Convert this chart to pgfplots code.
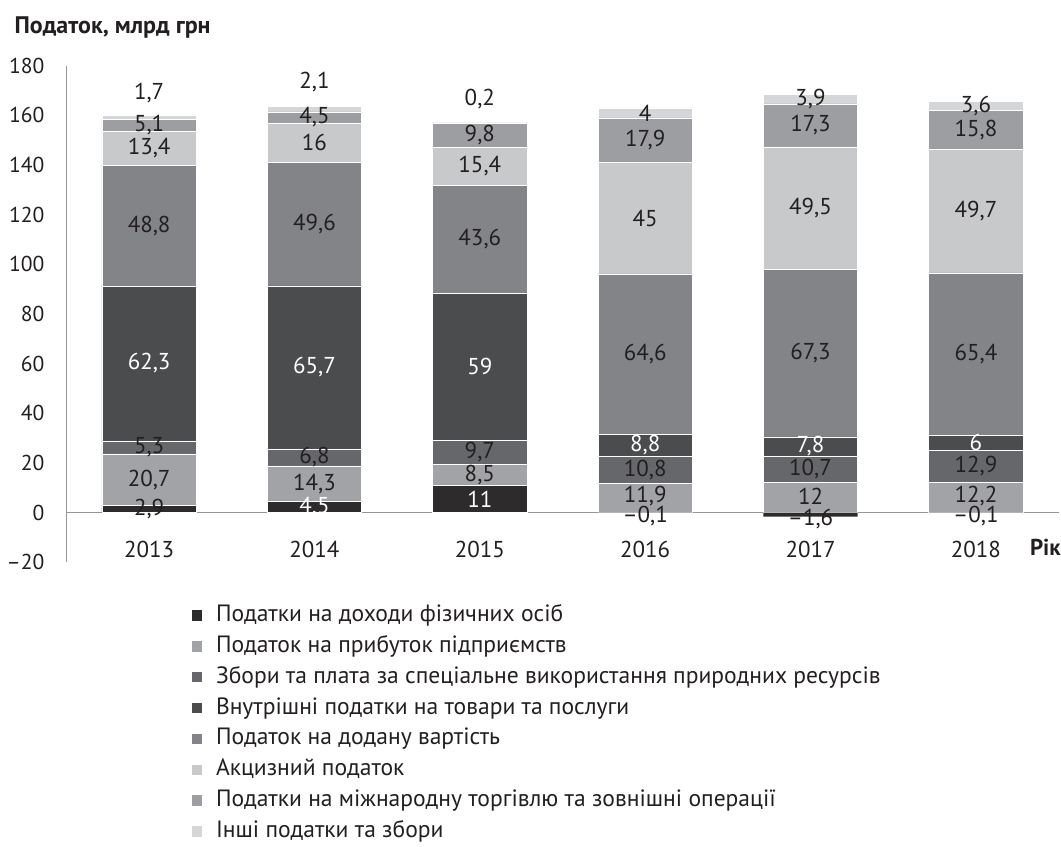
\documentclass[border=0pt]{standalone}
\usepackage{fontspec}
\setmainfont{PT Sans}
\usepackage{pgfplots}
\usepackage{pgfplotstable}
\pgfplotsset{compat=1.18}

\definecolor{cA}{HTML}{2D2B2C}
\definecolor{cB}{HTML}{A2A3A6}
\definecolor{cC}{HTML}{66676A}
\definecolor{cD}{HTML}{4B4C4E}
\definecolor{cE}{HTML}{838487}
\definecolor{cF}{HTML}{C8C9CB}
\definecolor{cG}{HTML}{9D9EA1}
\definecolor{cH}{HTML}{D5D6D8}
\definecolor{ink}{HTML}{231F20}
\definecolor{axl}{HTML}{939598}

\newcommand\lbl{\fontsize{11.5}{13}\selectfont}

% positive parts, stacked from zero
\pgfplotstableread{
x s1 s2 s3 s4 s5 s6 s7 s8
0 2.9 20.7 5.3 62.3 48.8 13.4 5.1 1.7
1 4.5 14.3 6.8 65.7 49.6 16.0 4.5 2.1
2 11.0 8.5 9.7 59.0 43.6 15.4 9.8 0.2
3 0 11.9 10.8 8.8 64.6 45.0 17.9 4.0
4 0 12.0 10.7 7.8 67.3 49.5 17.3 3.9
5 0 12.2 12.9 6.0 65.4 49.7 15.8 3.6
}\data

% negative personal income tax
\pgfplotstableread{
x y
3 -0.1
4 -1.6
5 -0.1
}\negdata

% value labels, dark
\pgfplotstableread{
x y t
0 1.45 2,9
0 13.25 20,7
0 26.25 5,3
0 115.6 48,8
0 146.7 13,4
0 155.95 5,1
0 169 1,7
1 11.65 14,3
1 22.2 6,8
1 116.1 49,6
1 148.9 16
1 159.15 4,5
1 173.5 2,1
2 15.25 8,5
2 24.35 9,7
2 110 43,6
2 139.5 15,4
2 152.1 9,8
2 166.5 0,2
3 -1.6 –0,1
3 6.6 11,9
3 17.3 10,8
3 63.8 64,6
3 118.6 45
3 150.05 17,9
3 161 4
4 -2.6 –1,6
4 6.4 12
4 17.35 10,7
4 64.15 67,3
4 122.55 49,5
4 155.95 17,3
4 166.55 3,9
5 -1.6 –0,1
5 6.7 12,2
5 18.65 12,9
5 63.8 65,4
5 121.35 49,7
5 154.1 15,8
5 163.8 3,6
}\darklabels

% value labels, white
\pgfplotstableread{
x y t
0 60.05 62,3
1 2.25 4,5
1 58.45 65,7
2 5.5 11
2 58.7 59
3 27.1 8,8
4 26.6 7,8
5 28.1 6
}\whitelabels

\pgfplotsset{
  frame/.style={scale only axis, width=496.8pt, height=248.6pt,
    xmin=-0.5, xmax=5.5, ymin=-20, ymax=180, enlargelimits=false, clip=false},
}

\begin{document}
\begin{tikzpicture}
\begin{axis}[frame,
  ybar stacked, bar width=47.2pt,
  axis x line*=middle, axis y line*=left,
  axis line style={axl, line width=0.9pt},
  hide obscured y ticks=false,
  xtick={0,...,5}, xticklabels={2013,2014,2015,2016,2017,2018},
  ytick={-20,0,...,180}, yticklabels={–20,0,20,40,60,80,100,120,140,160,180},
  major tick length=0pt,
  tick label style={text=ink},
  xticklabel style={font=\lbl, anchor=center, yshift=-18.5pt},
  yticklabel style={font=\fontsize{10.8}{13}\selectfont, anchor=east, xshift=-7.5pt},
  legend style={at={(rel axis cs:0.1258,-0.0764)}, anchor=north west,
    draw=none, fill=none, inner sep=0pt, font=\fontsize{11.8}{13}\selectfont,
    text=ink, row sep=0.45pt,
    nodes={inner sep=1.5pt, text height=9pt, text depth=3pt},
    /tikz/every odd column/.append style={column sep=5.5pt}},
  legend cell align=left,
  legend image code/.code={\fill[#1,draw=none] (0pt,-2.6pt) rectangle (5.2pt,2.6pt);},
]
\addplot[fill=cA, draw=white, line width=0.3pt] table[x=x,y=s1] {\data};
\addplot[fill=cB, draw=white, line width=0.3pt] table[x=x,y=s2] {\data};
\addplot[fill=cC, draw=white, line width=0.3pt] table[x=x,y=s3] {\data};
\addplot[fill=cD, draw=white, line width=0.3pt] table[x=x,y=s4] {\data};
\addplot[fill=cE, draw=white, line width=0.3pt] table[x=x,y=s5] {\data};
\addplot[fill=cF, draw=white, line width=0.3pt] table[x=x,y=s6] {\data};
\addplot[fill=cG, draw=white, line width=0.3pt] table[x=x,y=s7] {\data};
\addplot[fill=cH, draw=white, line width=0.3pt] table[x=x,y=s8] {\data};
\legend{Податки на доходи фізичних осіб,
  Податок на прибуток підприємств,
  Збори та плата за спеціальне використання природних ресурсів,
  Внутрішні податки на товари та послуги,
  Податок на додану вартість,
  Акцизний податок,
  Податки на міжнародну торгівлю та зовнішні операції,
  Інші податки та збори}
\node[anchor=base west, inner sep=0pt, font=\fontsize{12}{14}\selectfont\bfseries, text=ink]
  at (rel axis cs:-0.0526,1.0654) {Податок, млрд грн};
\node[anchor=base east, inner sep=0pt, font=\lbl\bfseries, text=ink]
  at (rel axis cs:1.0024,0.0127) {Рік};
\path (rel axis cs:0,0) ++(-32.5pt,-141pt) rectangle ++(530.5pt,422.5pt);
\end{axis}
\begin{axis}[frame, hide axis]
\addplot[ybar, bar width=47.2pt, fill=cA, draw=none] table[x=x,y=y] {\negdata};
\addplot[draw=none, mark=none, nodes near coords, point meta=explicit symbolic,
  every node near coord/.append style={anchor=center, inner sep=0pt, text=ink, font=\lbl}]
  table[x=x,y=y,meta=t] {\darklabels};
\addplot[draw=none, mark=none, nodes near coords, point meta=explicit symbolic,
  every node near coord/.append style={anchor=center, inner sep=0pt, text=white, font=\lbl}]
  table[x=x,y=y,meta=t] {\whitelabels};
\end{axis}
\end{tikzpicture}
\end{document}
